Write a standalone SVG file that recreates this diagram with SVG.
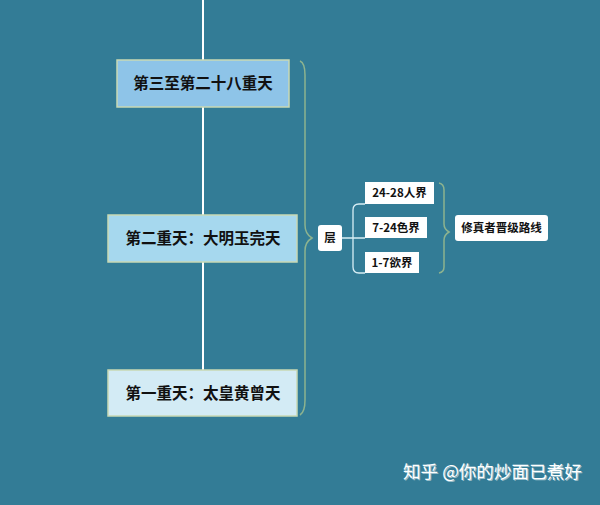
<svg xmlns="http://www.w3.org/2000/svg" width="600" height="505" viewBox="0 0 600 505">
<style>
.big{font-family:"Noto Sans CJK SC","Liberation Sans",sans-serif;font-size:15.5px;font-weight:bold;fill:#111;text-anchor:middle}
.sm{font-family:"Noto Sans CJK SC","Liberation Sans",sans-serif;font-size:11.5px;font-weight:bold;fill:#111;text-anchor:middle}
.box{stroke:#c9d9b4;stroke-width:1.5}
.wb{fill:#fff}
.brace{fill:none;stroke:#8db38f;stroke-width:1.5}
.wm{font-family:"Noto Sans CJK SC","Liberation Sans",sans-serif;font-size:17.6px;fill:#fff}
</style>
<rect width="600" height="505" fill="#337c96"/>
<g id="connectors">
<line x1="203" y1="0" x2="203" y2="371" stroke="#fff" stroke-width="2"/>
<path class="brace" d="M300,61 Q305,63 305,75 L305,225 Q305,234 312,238 Q305,242 305,251 L305,400 Q305,412 300,415"/>
<path d="M342,238 H352 M365,204 H359 Q353,204 353,210 V267 Q353,273 359,273 H365 M352,238 H365" fill="none" stroke="#d8eef5" stroke-width="1.3"/>
<path class="brace" d="M439,183 Q444,184 444,190 V224 Q444,229 449,232 Q444,235 444,240 V267 Q444,272 439,273"/>
</g>
<g id="n1"><rect class="box" x="117" y="60" width="172" height="47" fill="#8ec4e8"/><text class="big" x="203" y="89">第三至第二十八重天</text></g>
<g id="n2"><rect class="box" x="108" y="215" width="189" height="47" fill="#a6d8ee"/><text class="big" x="203" y="244">第二重天：大明玉完天</text></g>
<g id="n3"><rect class="box" x="108" y="370" width="189" height="46" fill="#d3ebf5"/><text class="big" x="203" y="399">第一重天：太皇黄曾天</text></g>
<g id="ceng"><rect class="wb" x="318" y="225" width="24" height="26" rx="3"/><text class="sm" x="330" y="242">层</text></g>
<g id="r1"><rect class="wb" x="365" y="182" width="69" height="22"/><text class="sm" x="399.5" y="197">24-28人界</text></g>
<g id="r2"><rect class="wb" x="365" y="217" width="62" height="21"/><text class="sm" x="396" y="232">7-24色界</text></g>
<g id="r3"><rect class="wb" x="365" y="252" width="54" height="21"/><text class="sm" x="392" y="267">1-7欲界</text></g>
<g id="goal"><rect class="wb" x="455" y="215" width="93" height="26" rx="3"/><text class="sm" x="501.5" y="232">修真者晋级路线</text></g>
<text class="wm" x="403" y="478" fill="#333" opacity="0.5" transform="translate(1,1)">知乎 @你的炒面已煮好</text>
<text class="wm" x="403" y="478">知乎 @你的炒面已煮好</text>
</svg>
